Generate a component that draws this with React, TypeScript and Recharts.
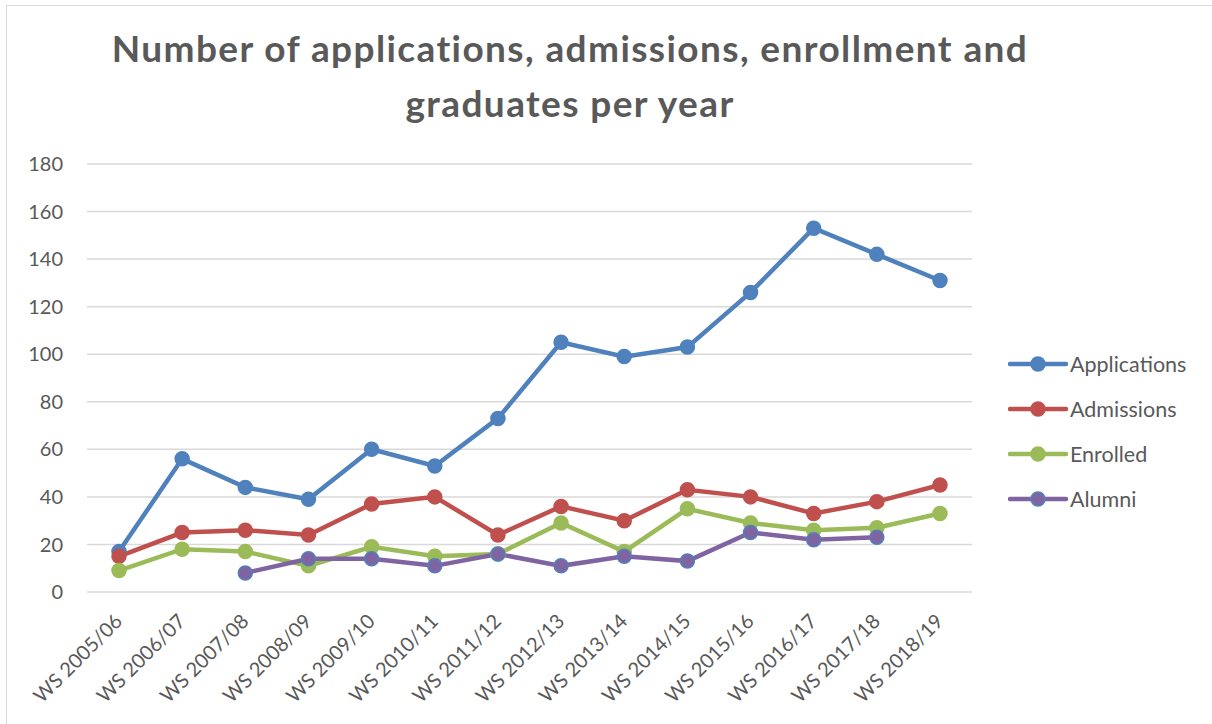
import { CartesianGrid, Line, LineChart, XAxis, YAxis } from "recharts"

const FONT = "Lato, 'Open Sans', sans-serif"
const TEXT = "#595959"

const YEARS = [
  "WS 2005/06", "WS 2006/07", "WS 2007/08", "WS 2008/09", "WS 2009/10", "WS 2010/11", "WS 2011/12",
  "WS 2012/13", "WS 2013/14", "WS 2014/15", "WS 2015/16", "WS 2016/17", "WS 2017/18", "WS 2018/19",
]
const APPLICATIONS = [17, 56, 44, 39, 60, 53, 73, 105, 99, 103, 126, 153, 142, 131]
const ADMISSIONS = [15, 25, 26, 24, 37, 40, 24, 36, 30, 43, 40, 33, 38, 45]
const ENROLLED = [9, 18, 17, 11, 19, 15, 16, 29, 17, 35, 29, 26, 27, 33]
const ALUMNI = [null, null, 8, 14, 14, 11, 16, 11, 15, 13, 25, 22, 23, null]
const Y_TICKS = [0, 20, 40, 60, 80, 100, 120, 140, 160, 180]

const SERIES = [
  { key: "Applications", color: "#4F81BD", border: "#4F81BD" },
  { key: "Admissions", color: "#C0504D", border: "#C0504D" },
  { key: "Enrolled", color: "#9BBB59", border: "#9BBB59" },
  { key: "Alumni", color: "#8064A2", border: "#4F81BD" },
]

const data = YEARS.map((year, i) => ({
  year,
  Applications: APPLICATIONS[i],
  Admissions: ADMISSIONS[i],
  Enrolled: ENROLLED[i],
  Alumni: ALUMNI[i],
}))

function YearTick({ x, y, payload }: any) {
  const tx = x + 1
  return (
    <text
      x={tx}
      y={y}
      transform={`rotate(-45, ${tx}, ${y})`}
      textAnchor="end"
      dominantBaseline="middle"
      fill={TEXT}
      fontSize={20}
      fontFamily={FONT}
    >
      {payload.value}
    </text>
  )
}

export default function App() {
  return (
    <div
      style={{
        position: "absolute",
        left: 0,
        top: 0,
        width: 1212,
        height: 724,
        background: "#fff",
        fontFamily: FONT,
        overflow: "hidden",
      }}
    >
      <div
        style={{
          position: "absolute",
          left: 6,
          top: 5,
          width: 1220,
          height: 730,
          border: "1px solid #D9D9D9",
        }}
      />
      <div
        style={{
          position: "absolute",
          left: 0,
          width: 1140,
          top: 20,
          textAlign: "center",
          color: TEXT,
          fontWeight: 700,
          fontSize: 37,
          letterSpacing: 1.4,
          lineHeight: "55px",
        }}
      >
        Number of applications, admissions, enrollment and
        <br />
        graduates per year
      </div>
      <div style={{ position: "absolute", left: 0, top: 0 }}>
        <LineChart width={1212} height={724} data={data} margin={{ top: 164, right: 240, bottom: 0, left: 0 }}>
          <CartesianGrid vertical={false} stroke="#D9D9D9" strokeWidth={1.5} />
          <XAxis
            dataKey="year"
            axisLine={false}
            tickLine={false}
            height={132}
            padding={{ left: 32, right: 32 }}
            interval={0}
            tickMargin={21}
            tick={<YearTick />}
          />
          <YAxis
            domain={[0, 180]}
            ticks={Y_TICKS}
            width={87}
            axisLine={false}
            tickLine={false}
            tickMargin={18}
            tick={{ fill: TEXT, fontSize: 20, fontFamily: FONT }}
          />
          {SERIES.map((s) => (
            <Line
              key={s.key}
              dataKey={s.key}
              stroke={s.color}
              strokeWidth={4.5}
              dot={{ r: 7, fill: s.color, stroke: s.border, strokeWidth: 1.5 }}
              activeDot={false}
              isAnimationActive={false}
            />
          ))}
        </LineChart>
      </div>
      {SERIES.map((s, i) => (
        <div
          key={s.key}
          style={{
            position: "absolute",
            left: 1008,
            top: 350 + i * 45,
            height: 28,
            display: "flex",
            alignItems: "center",
            color: TEXT,
            fontSize: 21.5,
          }}
        >
          <svg width={62} height={28}>
            <line x1={2} y1={14} x2={58} y2={14} stroke={s.color} strokeWidth={4.5} strokeLinecap="round" />
            <circle cx={30} cy={14} r={7} fill={s.color} stroke={s.border} strokeWidth={1.5} />
          </svg>
          <span>{s.key}</span>
        </div>
      ))}
    </div>
  )
}
